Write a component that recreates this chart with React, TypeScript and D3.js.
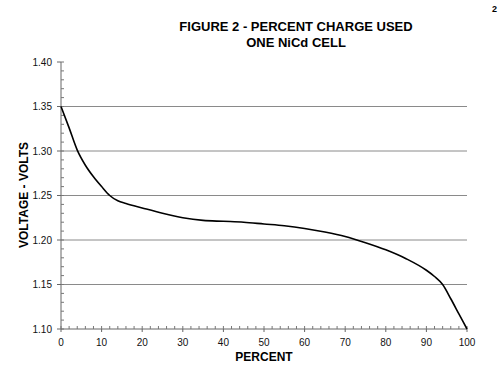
import React from "react";
import * as d3 from "d3";

const percent = [0, 2, 4, 6, 8, 10, 12, 14, 16, 20, 25, 30, 35, 40, 45, 50, 55, 60, 65, 70, 75, 80, 85, 90, 92, 94, 96, 98, 100];
const volts = [1.35, 1.326, 1.301, 1.284, 1.271, 1.26, 1.25, 1.244, 1.241, 1.236, 1.23, 1.225, 1.222, 1.221, 1.22, 1.218, 1.216, 1.213, 1.209, 1.204, 1.197, 1.189, 1.179, 1.166, 1.159, 1.150, 1.134, 1.117, 1.1];
const xTicks = [0, 10, 20, 30, 40, 50, 60, 70, 80, 90, 100];
const yTicks = [1.1, 1.15, 1.2, 1.25, 1.3, 1.35, 1.4];
const gridVals = [1.15, 1.2, 1.25, 1.3, 1.35];
const titleLines = ["FIGURE 2 - PERCENT CHARGE USED", "ONE NiCd CELL"];

export default function App() {
  const W = 500, H = 377;
  const x = d3.scaleLinear().domain([0, 100]).range([61, 467]);
  const y = d3.scaleLinear().domain([1.1, 1.4]).range([329, 62]);
  const line = d3
    .line<number>()
    .x((_, i) => x(percent[i]))
    .y((v) => y(v))
    .curve(d3.curveMonotoneX);
  const xMinor = d3.range(0, 100.01, 2);
  const yMinor = d3.range(0, 31).map((i) => 1.1 + i * 0.01);
  const font = "Arial, 'Liberation Sans', sans-serif";
  return (
    <svg width={W} height={H} style={{ position: "absolute", left: 0, top: 0, background: "#fff" }} fontFamily={font}>
      <rect width={W} height={H} fill="#fff" />
      <text x={497} y={12} fontSize={9} fontWeight="bold" textAnchor="end">2</text>
      {titleLines.map((t, i) => (
        <text key={i} x={296} y={31 + i * 16} fontSize={13} fontWeight="bold" textAnchor="middle">{t}</text>
      ))}
      {gridVals.map((v) => (
        <line key={v} x1={x(0)} x2={x(100)} y1={y(v)} y2={y(v)} stroke="#8a8a8a" strokeWidth={1} />
      ))}
      <line x1={x(0)} x2={x(0)} y1={y(1.4)} y2={y(1.1)} stroke="#666" strokeWidth={1} />
      <line x1={x(0)} x2={x(100)} y1={y(1.1)} y2={y(1.1)} stroke="#666" strokeWidth={1} />
      {yMinor.map((v, i) => (
        <line key={i} x1={x(0)} x2={x(0) + 3} y1={y(v)} y2={y(v)} stroke="#777" strokeWidth={1} />
      ))}
      {yTicks.map((v) => (
        <g key={v}>
          <line x1={x(0) - 4} x2={x(0)} y1={y(v)} y2={y(v)} stroke="#666" />
          <text x={52} y={y(v) + 3.5} fontSize={10} textAnchor="end" fill="#111">{v.toFixed(2)}</text>
        </g>
      ))}
      {xMinor.map((p, i) => (
        <line key={i} x1={x(p)} x2={x(p)} y1={y(1.1)} y2={y(1.1) - 3} stroke="#777" strokeWidth={1} />
      ))}
      {xTicks.map((p) => (
        <g key={p}>
          <line x1={x(p)} x2={x(p)} y1={y(1.1)} y2={y(1.1) + 3} stroke="#666" />
          <text x={x(p)} y={346} fontSize={10} textAnchor="middle" fill="#111">{p}</text>
        </g>
      ))}
      <path d={line(volts) || ""} fill="none" stroke="#000" strokeWidth={1.6} />
      <text x={264} y={361} fontSize={12} fontWeight="bold" textAnchor="middle">PERCENT</text>
      <text transform={`translate(28,195) rotate(-90)`} fontSize={12} fontWeight="bold" textAnchor="middle">VOLTAGE - VOLTS</text>
    </svg>
  );
}
